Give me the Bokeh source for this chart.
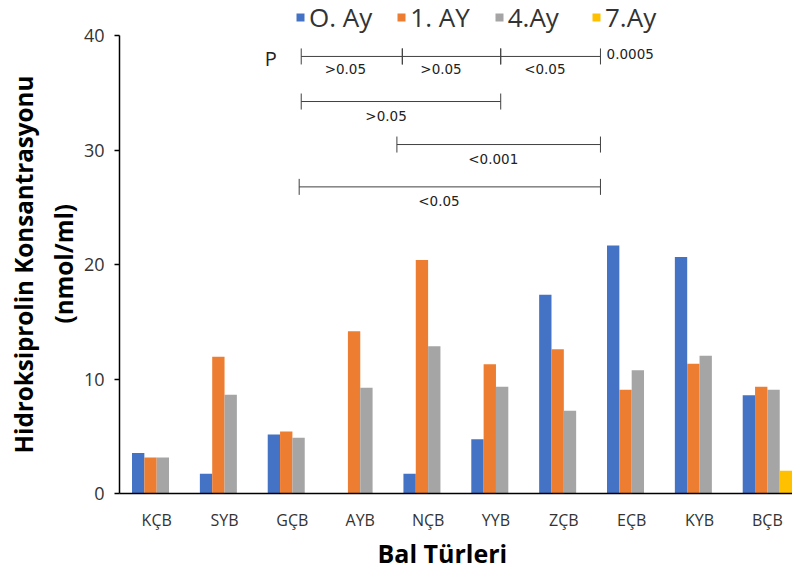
from bokeh.plotting import figure
from bokeh.models import (Range1d, FixedTicker, Legend, LegendItem, Title,
                          ColumnDataSource)
from bokeh.core.properties import value
from bokeh.embed import file_html
from bokeh.resources import INLINE

# ---------------- data ----------------
categories = ["KÇB", "SYB", "GÇB", "AYB", "NÇB", "YYB", "ZÇB", "EÇB", "KYB", "BÇB"]
series_names = ["O. Ay", "1. AY", "4.Ay", "7.Ay"]
ay0 = [3.55, 1.72, 5.15, 0.0, 1.72, 4.74, 17.37, 21.67, 20.67, 8.58]
ay1 = [3.14, 11.95, 5.41, 14.18, 20.41, 11.30, 12.60, 9.07, 11.35, 9.33]
ay4 = [3.14, 8.63, 4.88, 9.24, 12.87, 9.33, 7.24, 10.77, 12.03, 9.07]
ay7 = [0.0, 0.0, 0.0, 0.0, 0.0, 0.0, 0.0, 0.0, 0.0, 1.98]
y_ticks = [0, 10, 20, 30, 40]

# significance brackets (annotation shapes)
br_x0 = [2.13, 3.62, 5.07, 2.13, 3.54, 2.10]
br_x1 = [3.62, 5.07, 6.54, 5.07, 6.54, 6.54]
br_y = [38.2, 38.2, 38.2, 34.26, 30.5, 26.8]
p_texts = [">0.05", ">0.05", "<0.05", ">0.05", "<0.001", "<0.05"]
p_text_x = [2.78, 4.19, 5.72, 3.38, 4.96, 4.16]
p_text_y = [37.06, 37.06, 37.06, 32.98, 29.2, 25.55]

colors = ["#4472C4", "#ED7D31", "#A5A5A5", "#FFC000"]

# ---------------- figure ----------------
p = figure(width=792, height=570, output_backend="svg", toolbar_location=None,
           x_range=Range1d(-0.548, 9.37), y_range=Range1d(0, 43.09),
           min_border_left=119, min_border_right=0, min_border_top=0,
           min_border_bottom=77)
p.grid.visible = False
p.outline_line_color = None
p.background_fill_color = "white"
p.border_fill_color = "white"

bw = 1.0 / 5.5
offsets = [-1.5 * bw, -0.5 * bw, 0.5 * bw, 1.5 * bw]
xs = list(range(len(categories)))
renderers = []
for vals, off, col in zip([ay0, ay1, ay4, ay7], offsets, colors):
    src = ColumnDataSource(dict(x=[x + off for x in xs], top=vals))
    r = p.vbar(x="x", top="top", width=bw, source=src, fill_color=col,
               line_color=None)
    renderers.append(r)

# axes
yax = p.yaxis[0]
yax.ticker = FixedTicker(ticks=y_ticks)
yax.bounds = (0, 40)
yax.minor_tick_line_color = None
yax.major_tick_out = 5
yax.major_tick_in = 0
yax.major_tick_line_color = "black"
yax.major_tick_line_width = 1.5
yax.axis_line_color = "black"
yax.axis_line_width = 1.5
yax.major_label_text_font = "Open Sans"
yax.major_label_text_font_size = "18px"
yax.major_label_text_color = "#333333"
yax.major_label_standoff = 10

xax = p.xaxis[0]
xax.ticker = FixedTicker(ticks=xs)
xax.major_label_overrides = {i: c for i, c in enumerate(categories)}
xax.minor_tick_line_color = None
xax.major_tick_out = 0
xax.major_tick_in = 0
xax.axis_line_color = "black"
xax.axis_line_width = 1.5
xax.major_label_text_font = "Open Sans"
xax.major_label_text_font_size = "16px"
xax.major_label_text_color = "#333333"
xax.major_label_standoff = 15

# y-axis title (two lines), stacked outward from the axis
p.add_layout(Title(text="(nmol/ml)", align="left", offset=170, standoff=2,
                   text_font="Open Sans", text_font_size="24.2px",
                   text_font_style="bold", text_color="black"), "left")
p.add_layout(Title(text="Hidroksiprolin Konsantrasyonu", align="left",
                   offset=40, standoff=8,
                   text_font="Open Sans", text_font_size="24.2px",
                   text_font_style="bold", text_color="black"), "left")

p.add_layout(Title(text="Bal Türleri", align="left", offset=258, standoff=0,
                   text_font="Open Sans", text_font_size="25px",
                   text_font_style="bold", text_color="black"), "below")

# significance brackets
line_col = "#404040"
p.segment(x0=br_x0, y0=br_y, x1=br_x1, y1=br_y, line_color=line_col, line_width=1)
tick_h = 0.7
p.segment(x0=br_x0, y0=[y - tick_h for y in br_y], x1=br_x0,
          y1=[y + tick_h for y in br_y], line_color=line_col, line_width=1)
p.segment(x0=br_x1, y0=[y - tick_h for y in br_y], x1=br_x1,
          y1=[y + tick_h for y in br_y], line_color=line_col, line_width=1)
p.text(x=p_text_x, y=p_text_y, text=p_texts, text_font=value("DejaVu Sans"),
       text_font_size="13.5px", text_align="center", text_baseline="middle",
       text_color="#222222")
p.text(x=[6.63], y=[38.4], text=["0.0005"], text_font=value("DejaVu Sans"),
       text_font_size="13.5px", text_align="left", text_baseline="middle",
       text_color="#222222")
p.text(x=[1.68], y=[38.0], text=["P"], text_font=value("Open Sans"),
       text_font_size="20px", text_align="center", text_baseline="middle",
       text_color="#222222")

leg_style = dict(orientation="horizontal",
                 label_text_font="Open Sans", label_text_font_size="26px",
                 label_text_color="#333333", glyph_width=10, glyph_height=10,
                 label_standoff=4, spacing=24, padding=0, margin=0,
                 border_line_color=None, background_fill_alpha=0)
legend1 = Legend(items=[LegendItem(label=n, renderers=[r])
                        for n, r in zip(series_names[:3], renderers[:3])],
                 location=(176, 458), **leg_style)
legend2 = Legend(items=[LegendItem(label=series_names[3], renderers=[renderers[3]])],
                 location=(472, 458), **leg_style)
p.add_layout(legend1)
p.add_layout(legend2)

open("out.html", "w").write(file_html(p, INLINE))
